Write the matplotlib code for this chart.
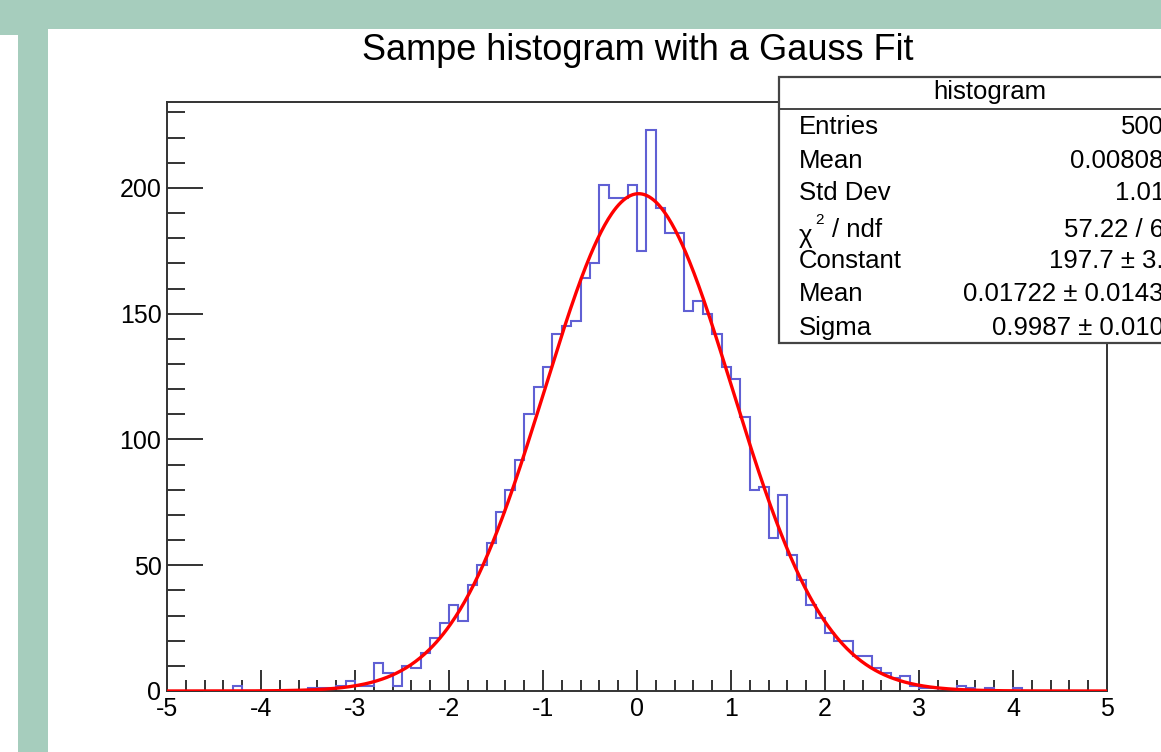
import numpy as np
import matplotlib
matplotlib.use("Agg")
import matplotlib.pyplot as plt
from matplotlib.patches import Rectangle
from matplotlib.lines import Line2D
from matplotlib.ticker import MultipleLocator

plt.rcParams['font.family'] = ['Liberation Sans', 'DejaVu Sans']
plt.rcParams['axes.unicode_minus'] = False

# ---- data ----
x_min, x_max, n_bins = -5.0, 5.0, 100
counts = [0, 0, 0, 0, 0, 0, 0, 2, 0, 0,
          0, 0, 0, 0, 0, 1, 1, 1, 2, 4,
          2, 2, 11, 7, 2, 10, 9, 15, 21, 27,
          34, 28, 42, 50, 59, 71, 80, 92, 110, 121,
          129, 142, 145, 147, 164, 170, 201, 196, 196, 201,
          175, 223, 192, 182, 182, 151, 155, 150, 142, 129,
          124, 109, 80, 81, 61, 78, 54, 44, 34, 29,
          23, 20, 20, 14, 14, 9, 7, 5, 6, 2,
          1, 1, 0, 0, 2, 1, 0, 1, 0, 0,
          1, 0, 0, 0, 0, 0, 0, 0, 0, 0]
fit_constant = 197.7
fit_mean = 0.01722
fit_sigma = 0.9987

title = "Sampe histogram with a Gauss Fit"
stats_name = "histogram"
stats_labels = ["Entries", "Mean", "Std Dev", None, "Constant", "Mean", "Sigma"]
stats_values = ["5000", "0.008086", "1.011", "57.22 / 64", "197.7 \u00b1 3.5",
                "0.01722 \u00b1 0.01436", "0.9987 \u00b1 0.0101"]
x_ticks = [-5, -4, -3, -2, -1, 0, 1, 2, 3, 4, 5]
y_ticks = [0, 50, 100, 150, 200]

# ---- figure ----
W, H = 1161, 752
fig = plt.figure(figsize=(W / 100, H / 100), dpi=100)
fig.patch.set_facecolor('white')

def fx(px):
    return px / W

def fy(py):
    return 1 - py / H

teal = '#a6cdbd'
# top band
fig.patches.append(Rectangle((0, fy(29)), 1, 29 / H, transform=fig.transFigure,
                             facecolor=teal, edgecolor='none', zorder=0))
fig.patches.append(Rectangle((0, fy(35)), fx(18), 6 / H, transform=fig.transFigure,
                             facecolor=teal, edgecolor='none', zorder=0))
# left vertical band
fig.patches.append(Rectangle((fx(18), 0), fx(30), fy(29), transform=fig.transFigure,
                             facecolor=teal, edgecolor='none', zorder=0))

ax = fig.add_axes([fx(167), fy(691), fx(1107) - fx(167), fy(102) - fy(691)])
edges = np.linspace(x_min, x_max, n_bins + 1)
counts_arr = np.array(counts, dtype=float)
ax.stairs(counts_arr, edges, color='#6060d4', linewidth=1.5, baseline=0, zorder=2)

xf = np.linspace(x_min, x_max, 800)
yf = fit_constant * np.exp(-0.5 * ((xf - fit_mean) / fit_sigma) ** 2)
ax.plot(xf, yf, color='#ff0000', linewidth=2.4, zorder=3)

ax.set_xlim(x_min, x_max)
ax.set_ylim(0, max(counts) * 1.05)

for s in ax.spines.values():
    s.set_color('#333333')
    s.set_linewidth(1.4)

ax.set_xticks(x_ticks)
ax.set_xticklabels([str(t) for t in x_ticks])
ax.set_yticks(y_ticks)
ax.set_yticklabels([str(t) for t in y_ticks])
ax.xaxis.set_minor_locator(MultipleLocator(0.2))
ax.yaxis.set_minor_locator(MultipleLocator(10))
ax.tick_params(axis='x', which='major', direction='in', length=15, width=1.4,
               color='#333333', labelsize=18, pad=4)
ax.tick_params(axis='x', which='minor', direction='in', length=8, width=1.4,
               color='#333333')
ax.tick_params(axis='y', which='major', direction='in', length=26, width=1.4,
               color='#333333', labelsize=18, pad=4)
ax.tick_params(axis='y', which='minor', direction='in', length=13, width=1.4,
               color='#333333')
ax.tick_params(top=False, right=False, which='both')

# title
fig.text(fx(638), fy(60), title, ha='center', va='baseline', fontsize=26, color='black')

# stats box
box_left, box_top, box_bottom, box_right = 779, 77, 343, 1205
fig.patches.append(Rectangle((fx(box_left), fy(box_bottom)), fx(box_right - box_left),
                             (box_bottom - box_top) / H, transform=fig.transFigure,
                             facecolor='white', edgecolor='#444444', linewidth=1.6, zorder=5))
fig.lines.append(Line2D([fx(box_left), fx(box_right)], [fy(109), fy(109)],
                        transform=fig.transFigure, color='#444444', linewidth=1.4, zorder=6))
fig.text(fx(990), fy(92), stats_name, ha='center', va='center', fontsize=18.5, zorder=7)

row_centers = [125, 158, 191, 228, 258, 291, 325]
for lab, val, yc in zip(stats_labels, stats_values, row_centers):
    if lab is None:
        fig.text(fx(799), fy(243), "\u03c7", ha='left', va='baseline', fontsize=18.5, zorder=7)
        fig.text(fx(815), fy(224), "2", ha='left', va='baseline', fontsize=11, zorder=7)
        fig.text(fx(832), fy(237), "/ ndf", ha='left', va='baseline', fontsize=18.5, zorder=7)
        fig.text(fx(1178), fy(237), val, ha='right', va='baseline', fontsize=18.5, zorder=7)
    else:
        fig.text(fx(799), fy(yc), lab, ha='left', va='center_baseline', fontsize=18.5, zorder=7)
        fig.text(fx(1178), fy(yc), val, ha='right', va='center_baseline', fontsize=18.5, zorder=7)

fig.savefig('out.png', dpi=100)
